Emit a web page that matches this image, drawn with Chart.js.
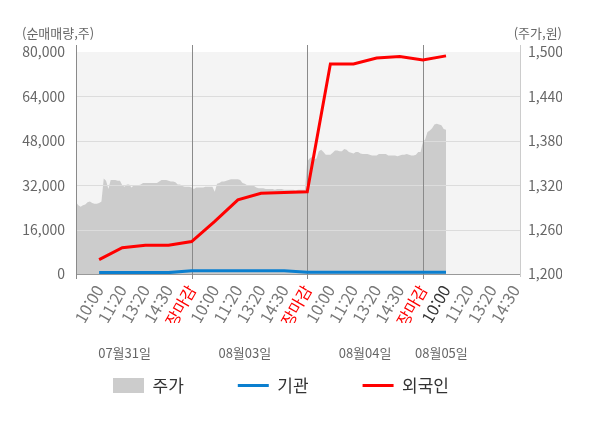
<!DOCTYPE html>
<html lang="ko">
<head>
<meta charset="utf-8">
<script src="https://cdn.jsdelivr.net/npm/chart.js@4.4.1/dist/chart.umd.min.js"></script>
<style>
html,body{margin:0;padding:0;background:#ffffff;}
#box{position:relative;width:600px;height:428px;}
</style>
</head>
<body>
<div id="box"><canvas id="chart"></canvas></div>
<script>
// ---------------- data ----------------
const dates = ['07월31일', '08월03일', '08월04일', '08월05일'];
const dayTicks = ['10:00', '11:20', '13:20', '14:30', '장마감'];
const lastDayTicks = ['10:00', '11:20', '13:20', '14:30'];
const leftTicks = [0, 16000, 32000, 48000, 64000, 80000];
const rightTicks = [1200, 1260, 1320, 1380, 1440, 1500];
const seriesNames = ['주가', '기관', '외국인'];
const axisTitles = ['(순매매량,주)', '(주가,원)'];

// 주가 (price, won) — intraday samples per day
const priceDay1 = [1297,1293,1291,1293,1294,1297,1298,1296,1295,1295,
                   1296,1298,1329,1326,1315,1327,1327,1327,1326,1326,
                   1320,1318,1321,1321,1317,1320,1320,1320,1321,1323,
                   1323,1323,1323,1323,1323,1323,1325,1327,1327,1327,
                   1326,1325,1325,1324,1321,1321,1319,1318,1318,1318];
const priceDay2 = [1317,1315,1317,1317,1317,1317,1318,1318,1318,1318,
                   1311,1322,1323,1325,1325,1326,1327,1328,1328,1328,
                   1328,1327,1323,1322,1320,1320,1319,1319,1317,1316,
                   1316,1316,1315,1315,1315,1315,1314,1315,1315,1315,
                   1314,1314,1314,1314,1314,1313,1314,1314,1314,1314];
const priceDay3 = [1352,1356,1358,1355,1356,1366,1368,1365,1361,1361,
                   1361,1364,1367,1367,1366,1366,1369,1368,1365,1364,
                   1363,1365,1365,1363,1362,1362,1362,1361,1360,1360,
                   1360,1362,1362,1362,1362,1360,1360,1360,1360,1359,
                   1360,1361,1361,1362,1361,1360,1360,1361,1365,1365];
const priceDay4 = [1378,1382,1392,1394,1397,1402,1403,1402,1401,1396,1395];

// 순매매량 (net shares) at each labelled time
const foreignNet     = [5200, 9500, 10400, 10400, 11700, 19000, 26700, 29100, 29400, 29600, 75700, 75700, 77800, 78400, 77100, 78600];
const institutionNet = [500, 500, 500, 500, 1200, 1200, 1200, 1200, 1200, 600, 600, 600, 600, 600, 600, 600];

// ---------------- build ----------------
const SLOTS_PER_TICK = 10;
const SLOTS_PER_DAY = 50;
const LAST_SLOT = 192;
const CURRENT_TICK_SLOT = 160;
const dateLabelSlots = [21, 73, 125, 158];

const labels = Array.from({length: LAST_SLOT + 1}, () => '');
[...dayTicks, ...dayTicks, ...dayTicks, ...lastDayTicks].forEach((t, k) => {
  labels[(k + 1) * SLOTS_PER_TICK] = t;
});
const price = [...priceDay1, ...priceDay2, ...priceDay3, ...priceDay4];
const priceData = labels.map((_, i) => i < price.length ? price[i] : null);
const atTicks = arr => {
  const out = labels.map(() => null);
  arr.forEach((v, k) => { out[(k + 1) * SLOTS_PER_TICK] = v; });
  return out;
};

const FONT = "'Noto Sans CJK KR', 'Noto Sans', sans-serif";
Chart.defaults.font.family = FONT;

const decor = {
  id: 'decor',
  beforeDraw(chart) {
    const {ctx, chartArea: a} = chart;
    ctx.save();
    ctx.fillStyle = '#f4f4f4';
    ctx.fillRect(a.left, a.top, a.right - a.left, a.bottom - a.top);
    ctx.restore();
  },
  afterDatasetDraw(chart, args) {
    if (args.index !== 0) return;
    const {ctx, chartArea: a, scales} = chart;
    ctx.save();
    ctx.lineWidth = 1;
    ctx.strokeStyle = '#dcdcdc';
    leftTicks.slice(1, -1).forEach(v => {
      const y = Math.round(scales.y.getPixelForValue(v)) + 0.5;
      ctx.beginPath(); ctx.moveTo(a.left, y); ctx.lineTo(a.right, y); ctx.stroke();
    });
    ctx.strokeStyle = '#cccccc';
    const xr = Math.round(a.right) + 0.5;
    ctx.beginPath(); ctx.moveTo(xr, a.top - 7); ctx.lineTo(xr, a.bottom + 3); ctx.stroke();
    ctx.strokeStyle = '#999999';
    const yb = Math.round(a.bottom) + 0.5;
    ctx.beginPath(); ctx.moveTo(a.left, yb); ctx.lineTo(a.right, yb); ctx.stroke();
    ctx.strokeStyle = '#8a8a8a';
    for (let d = 0; d < dates.length; d++) {
      const x = Math.round(scales.x.getPixelForValue(d * SLOTS_PER_DAY)) + 0.5;
      ctx.beginPath(); ctx.moveTo(x, a.top - 7); ctx.lineTo(x, a.bottom + 5); ctx.stroke();
    }
    ctx.restore();
  },
  afterDraw(chart) {
    const {ctx, scales} = chart;
    ctx.save();
    ctx.font = '13px ' + FONT;
    ctx.fillStyle = '#666666';
    ctx.textBaseline = 'middle';
    ctx.textAlign = 'left';
    ctx.fillText(axisTitles[0], 22, 33);
    ctx.textAlign = 'right';
    ctx.fillText(axisTitles[1], 562, 33);
    ctx.textAlign = 'center';
    dates.forEach((d, i) => {
      ctx.fillText(d, scales.x.getPixelForValue(dateLabelSlots[i]), 353);
    });
    ctx.restore();
  }
};

new Chart(document.getElementById('chart'), {
  type: 'line',
  data: {
    labels,
    datasets: [
      {
        label: seriesNames[0], data: priceData, yAxisID: 'y1',
        backgroundColor: '#cccccc', borderColor: '#cccccc', borderWidth: 0,
        fill: 'start', pointRadius: 0, tension: 0, order: 3
      },
      {
        label: seriesNames[1], data: atTicks(institutionNet), yAxisID: 'y',
        borderColor: '#0b7fcf', backgroundColor: '#0b7fcf', borderWidth: 3,
        pointRadius: 0, spanGaps: true, tension: 0, fill: false, order: 2
      },
      {
        label: seriesNames[2], data: atTicks(foreignNet), yAxisID: 'y',
        borderColor: '#ff0000', backgroundColor: '#ff0000', borderWidth: 3,
        pointRadius: 0, spanGaps: true, tension: 0, fill: false, order: 1
      }
    ]
  },
  options: {
    responsive: true,
    maintainAspectRatio: false,
    animation: false,
    layout: {padding: {left: 0, right: 38, top: 52, bottom: 24}},
    plugins: {
      tooltip: {enabled: false},
      legend: {
        position: 'bottom',
        labels: {
          usePointStyle: true,
          pointStyleWidth: 31,
          boxWidth: 31,
          boxHeight: 15,
          padding: 54,
          color: '#333333',
          font: {size: 17, family: FONT},
          generateLabels: (chart) => chart.data.datasets.map((ds, i) => ({
            text: ds.label,
            datasetIndex: i,
            fillStyle: ds.backgroundColor,
            strokeStyle: ds.borderColor,
            lineWidth: i === 0 ? 0 : 3,
            pointStyle: i === 0 ? 'rect' : 'line',
            hidden: false,
            fontColor: '#333333'
          }))
        }
      }
    },
    scales: {
      x: {
        type: 'category',
        offset: false,
        grid: {display: false, drawTicks: false},
        border: {display: false},
        ticks: {
          autoSkip: false,
          maxRotation: 60,
          minRotation: 60,
          padding: 8,
          font: {size: 16},
          color: (c) => (c.tick && c.tick.label === '장마감') ? '#ff0000'
                        : (c.index === CURRENT_TICK_SLOT ? '#333333' : '#777777'),
          callback: (v, i) => labels[i]
        },
        afterFit: (s) => { s.height = 49; }
      },
      y: {
        position: 'left',
        min: leftTicks[0],
        max: leftTicks[leftTicks.length - 1],
        grid: {display: false, drawTicks: false},
        border: {display: false},
        ticks: {
          stepSize: leftTicks[1] - leftTicks[0],
          padding: 11,
          color: '#666666',
          font: {size: 14},
          callback: (v) => v.toLocaleString('en-US')
        },
        afterFit: (s) => { s.width = 76; }
      },
      y1: {
        position: 'right',
        min: rightTicks[0],
        max: rightTicks[rightTicks.length - 1],
        grid: {display: false, drawTicks: false},
        border: {display: false},
        ticks: {
          stepSize: rightTicks[1] - rightTicks[0],
          padding: 8,
          color: '#666666',
          font: {size: 14},
          callback: (v) => v.toLocaleString('en-US')
        },
        afterFit: (s) => { s.width = 42; }
      }
    }
  },
  plugins: [decor]
});
</script>
</body>
</html>
